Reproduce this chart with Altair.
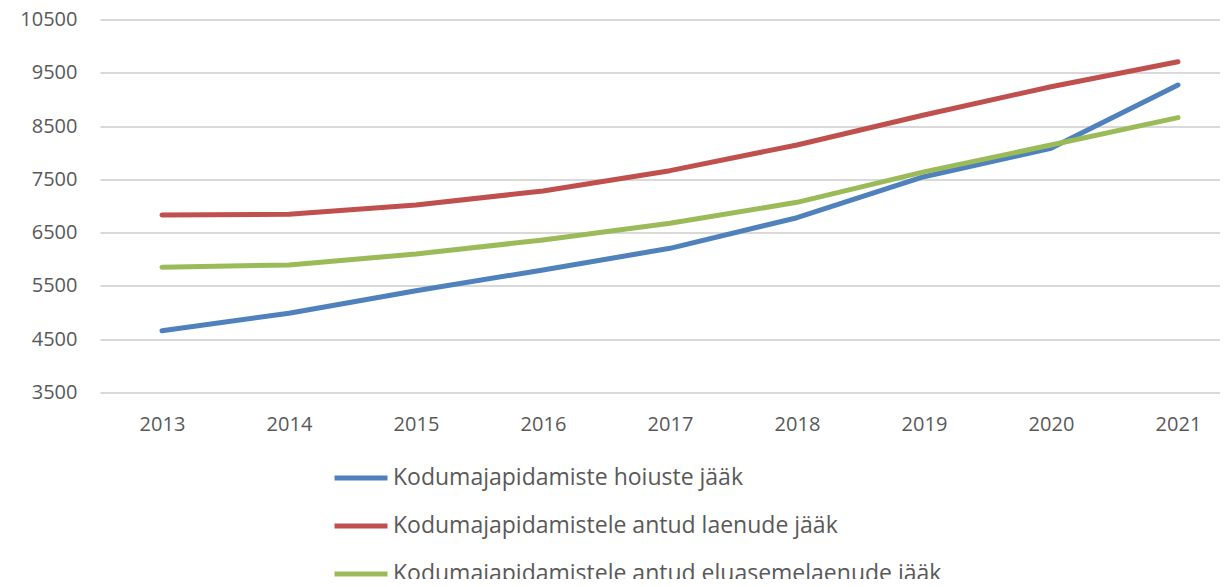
import altair as alt
import pandas as pd

years = [2013, 2014, 2015, 2016, 2017, 2018, 2019, 2020, 2021]
series_names = [
    "Kodumajapidamiste hoiuste jääk",
    "Kodumajapidamistele antud laenude jääk",
    "Kodumajapidamistele antud eluasemelaenude jääk",
]
deposits = [4660, 4987, 5410, 5800, 6206, 6780, 7550, 8083, 9271]
loans = [6831, 6845, 7019, 7282, 7663, 8145, 8708, 9239, 9708]
housing = [5850, 5893, 6100, 6362, 6675, 7069, 7640, 8145, 8658]
y_ticks = [3500, 4500, 5500, 6500, 7500, 8500, 9500, 10500]
colors = ["#4f81bd", "#c0504d", "#9bbb59"]

rows = []
for name, vals in zip(series_names, [deposits, loans, housing]):
    for yr, v in zip(years, vals):
        rows.append({"year": yr, "value": v, "series": name})
df = pd.DataFrame(rows)

FONT = "Open Sans"
GRAY = "#595959"

chart = alt.Chart(df).mark_line(strokeWidth=5, strokeCap="round", strokeJoin="round").encode(
    x=alt.X("year:Q",
            scale=alt.Scale(domain=[2012.512, 2021.331], nice=False, zero=False),
            axis=alt.Axis(title=None, values=years, format="d", labelAngle=0,
                          domain=False, ticks=False, grid=False, labelFlush=False,
                          labelPadding=22, labelFontSize=20, labelColor=GRAY, labelFont=FONT)),
    y=alt.Y("value:Q",
            scale=alt.Scale(domain=[3500, 10500], nice=False, zero=False),
            axis=alt.Axis(title=None, values=y_ticks, format="d", domain=False, ticks=False,
                          labelPadding=23, labelFontSize=20, labelColor=GRAY, labelFont=FONT,
                          gridColor="#d9d9d9", gridWidth=2)),
    color=alt.Color("series:N",
                    scale=alt.Scale(domain=series_names, range=colors),
                    legend=alt.Legend(title=None, orient="none", legendX=232, legendY=435,
                                      direction="vertical", symbolType="stroke",
                                      symbolSize=2809, symbolStrokeWidth=5,
                                      clipHeight=47, rowPadding=1, labelOffset=3,
                                      labelFontSize=23, labelColor=GRAY, labelFont=FONT,
                                      labelLimit=900)),
    order="year:Q",
).properties(
    width=1120, height=373,
    autosize=alt.AutoSizeParams(type="none"),
    padding={"left": 92, "top": 11.5, "right": 0, "bottom": 186.5},
).configure_view(stroke=None)

chart.save("out.html", embed_options={"renderer": "svg", "actions": False})
